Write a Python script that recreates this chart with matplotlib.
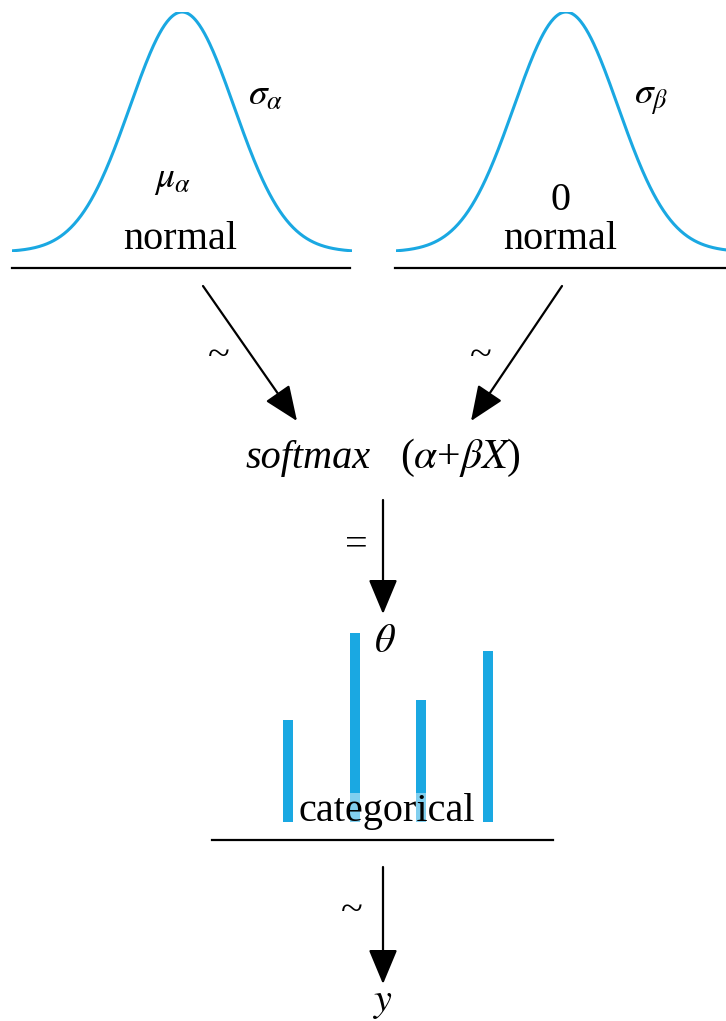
import numpy as np
import matplotlib
matplotlib.use("Agg")
import matplotlib.pyplot as plt

plt.rcParams['font.family'] = ['Liberation Serif', 'DejaVu Serif']
plt.rcParams['mathtext.fontset'] = 'stix'

# data
theta = [0.175, 0.325, 0.21, 0.293]
categories = [0, 1, 2, 3]
z = np.linspace(-3.27, 3.27, 400)
pdf = np.exp(-0.5 * z ** 2)

W, H = 726, 1021
blue = '#1AA8E2'

fig = plt.figure(figsize=(W / 100, H / 100), dpi=100)
ax = fig.add_axes([0, 0, 1, 1])
ax.set_xlim(0, W)
ax.set_ylim(H, 0)
ax.axis('off')


def px_axes(x0, x1, ytop, ybot):
    return fig.add_axes([x0 / W, 1 - ybot / H, (x1 - x0) / W, (ybot - ytop) / H])


# the two normal priors
for x0, x1 in [(12, 352), (396, 736)]:
    g = px_axes(x0, x1, 12, 252)
    g.plot(z, pdf, color=blue, lw=2.2, solid_capstyle='round')
    g.set_xlim(z[0], z[-1])
    g.set_ylim(0, 1)
    g.axis('off')
    g.patch.set_alpha(0)

ax.plot([12, 350], [268, 268], color='black', lw=1.6)
ax.plot([395, 726], [268, 268], color='black', lw=1.6)

ax.text(180, 249, 'normal', fontsize=29, ha='center', va='baseline')
ax.text(560, 249, 'normal', fontsize=29, ha='center', va='baseline')
ax.text(266, 96, r'$\sigma_{\alpha}$', fontsize=27, ha='center', va='center')
ax.text(173, 180, r'$\mu_{\alpha}$', fontsize=27, ha='center', va='center')
ax.text(651, 100, r'$\sigma_{\beta}$', fontsize=27, ha='center', va='center')
ax.text(560, 200, '0', fontsize=29, ha='center', va='center')

aprops = dict(arrowstyle='-|>,head_length=1.08,head_width=0.45', mutation_scale=20,
              color='black', lw=1.6, shrinkA=0, shrinkB=0)

# arrows to the softmax
ax.annotate('', xy=(297, 421), xytext=(203, 286), arrowprops=aprops)
ax.annotate('', xy=(471, 421), xytext=(562, 286), arrowprops=aprops)
ax.text(219, 356, '~', fontsize=29, ha='center', va='center')
ax.text(481, 356, '~', fontsize=29, ha='center', va='center')

ax.text(308, 468, 'softmax', fontsize=29, style='italic', ha='center', va='baseline')
ax.text(460, 468, r'($\alpha$+$\beta X$)', fontsize=30, ha='center', va='baseline')

ax.annotate('', xy=(383, 614), xytext=(383, 500), arrowprops=aprops)
ax.text(356, 546, '=', fontsize=29, ha='center', va='center')
ax.text(385, 642, r'$\theta$', fontsize=29, ha='center', va='center')

# categorical bars
b = px_axes(254.7, 521.3, 618, 822)
b.bar(categories, theta, width=0.15, color=blue)
b.set_xlim(-0.5, 3.5)
b.set_ylim(0, 0.35)
b.axis('off')
b.patch.set_alpha(0)

fig.text(387, 821, 'categorical', fontsize=29, ha='center', va='baseline',
         transform=ax.transData, zorder=5,
         bbox=dict(boxstyle='square,pad=0', fc='white', ec='none', alpha=0.45))
ax.plot([212, 553], [840, 840], color='black', lw=1.6)

ax.annotate('', xy=(383, 984), xytext=(383, 867), arrowprops=aprops)
ax.text(352, 911, '~', fontsize=29, ha='center', va='center')
ax.text(383, 1011, r'$y$', fontsize=29, ha='center', va='baseline')

fig.savefig('out.png', dpi=100)
